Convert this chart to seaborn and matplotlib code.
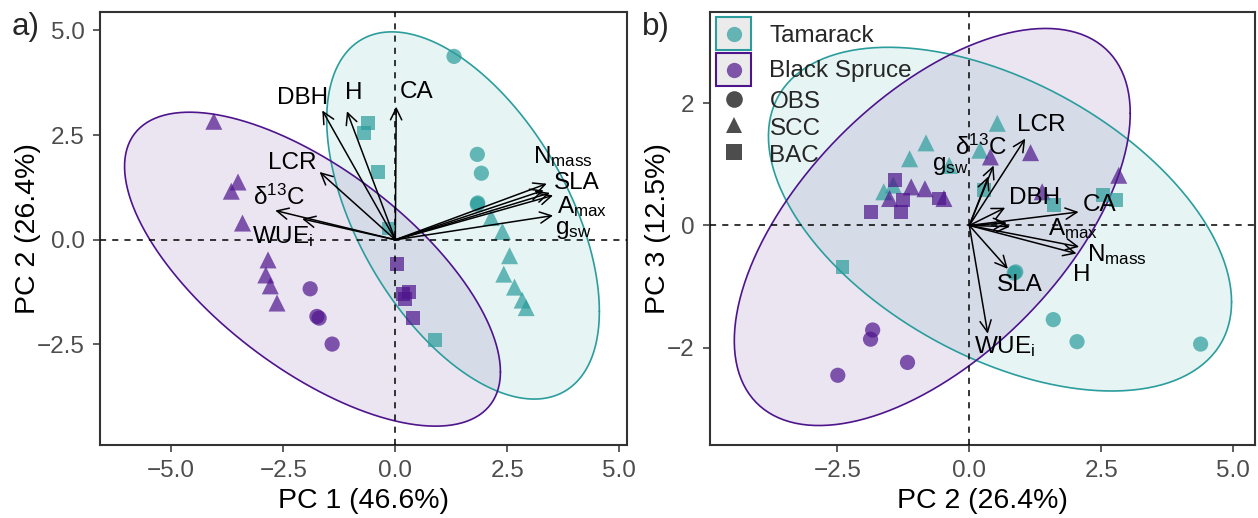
import numpy as np
import pandas as pd
import matplotlib
matplotlib.use("Agg")
import matplotlib.pyplot as plt
import seaborn as sns
from matplotlib.patches import Rectangle
from matplotlib.lines import Line2D
from matplotlib.legend_handler import HandlerBase

# ---- PCA scores per tree -------------------------------------------------
species = (["Tamarack"] * 17) + (["Black Spruce"] * 17)
site = (["OBS"] * 5 + ["SCC"] * 7 + ["BAC"] * 5 +
        ["OBS"] * 4 + ["SCC"] * 8 + ["BAC"] * 5)
pc1 = [1.31, 1.83, 1.92, 1.84, 1.83,
       2.14, 2.39, 2.55, 2.42, 2.66, 2.83, 2.92,
       -0.61, -0.69, -0.38, -0.15, 0.88,
       -1.90, -1.75, -1.70, -1.41,
       -4.05, -3.51, -3.66, -3.41, -2.84, -2.89, -2.79, -2.64,
       0.04, 0.30, 0.18, 0.22, 0.39]
pc2 = [4.38, 2.04, 1.59, 0.88, 0.85,
       0.53, 0.20, -0.38, -0.82, -1.13, -1.44, -1.62,
       2.78, 2.54, 1.61, 0.27, -2.40,
       -1.17, -1.83, -1.87, -2.49,
       2.83, 1.38, 1.16, 0.40, -0.48, -0.84, -1.10, -1.51,
       -0.58, -1.25, -1.30, -1.41, -1.86]
pc3 = [-1.94, -1.90, -1.54, -0.76, -0.78,
       1.67, 1.23, 0.98, 1.35, 1.09, 0.66, 0.55,
       0.41, 0.50, 0.33, 0.58, -0.68,
       -2.24, -1.71, -1.86, -2.45,
       0.82, 0.55, 1.19, 1.12, 0.44, 0.60, 0.63, 0.44,
       0.44, 0.41, 0.22, 0.75, 0.22]

# ---- trait loadings (arrow tips) -------------------------------------------
arrow_a_pc1 = [-1.63, -1.08, 0.02, -1.69, -2.68, -2.08, 3.38, 3.31, 3.45, 3.52, 3.52]
arrow_a_pc2 = [3.09, 3.07, 3.18, 1.62, 0.70, 0.50, 1.34, 1.18, 1.12, 1.06, 0.58]
arrow_b_pc2 = [2.08, 2.03, 2.07, 1.06, 0.46, 0.35, 0.68, 0.73, 0.71, 0.77, 0.36]
arrow_b_pc3 = [-0.35, -0.46, 0.22, 1.42, 0.98, -1.77, 0.29, -0.71, 0.04, -0.02, 0.80]

# ---- trait labels ----------------------------------------------------------
labels_a = ["DBH", "H", "CA", "LCR", "δ$^{13}$C", "WUE$_{i}$",
            "N$_{mass}$", "SLA", "A$_{max}$", "g$_{sw}$"]
label_a_x = [-2.07, -0.93, 0.48, -2.30, -2.60, -2.51, 3.73, 4.06, 4.18, 3.97]
label_a_y = [3.25, 3.37, 3.39, 1.70, 0.84, -0.08, 1.83, 1.22, 0.64, 0.14]

labels_b = ["LCR", "δ$^{13}$C", "g$_{sw}$", "DBH", "CA", "A$_{max}$",
            "N$_{mass}$", "H", "SLA", "WUE$_{i}$"]
label_b_x = [1.37, 0.22, -0.36, 1.23, 2.46, 1.97, 2.79, 2.12, 0.95, 0.67]
label_b_y = [1.54, 1.15, 0.90, 0.35, 0.24, -0.16, -0.59, -0.91, -1.07, -2.08]

species_order = ["Tamarack", "Black Spruce"]
site_order = ["OBS", "SCC", "BAC"]

df = pd.DataFrame({"Species": species, "Site": site,
                   "PC1": pc1, "PC2": pc2, "PC3": pc3})

# ---- style -----------------------------------------------------------------
sns.set_theme(style="white")
plt.rcParams["font.family"] = ["Liberation Sans", "DejaVu Sans"]
plt.rcParams["mathtext.fontset"] = "custom"
plt.rcParams["mathtext.rm"] = "Liberation Sans"
plt.rcParams["mathtext.it"] = "Liberation Sans:italic"
plt.rcParams["mathtext.bf"] = "Liberation Sans:bold"
plt.rcParams["mathtext.default"] = "regular"

TEAL = "#2A9D9C"
PURPLE = "#4E148C"
palette = {"Tamarack": TEAL, "Black Spruce": PURPLE}
markers = {"OBS": "o", "SCC": "^", "BAC": "s"}
marker_area = {"OBS": 120, "SCC": 150, "BAC": 100}
# radius rule used for each group's 95% ellipse
ellipse_rule = {"Tamarack": "chisq", "Black Spruce": "F"}
GREY = "#333333"
FS = 17.5

fig = plt.figure(figsize=(12.58, 5.18), dpi=100)
ax_a = fig.add_axes([100 / 1258, 73 / 518, 527 / 1258, 433 / 518])
ax_b = fig.add_axes([710 / 1258, 73 / 518, 545 / 1258, 433 / 518])


def draw_ellipse(ax, x, y, color, rule, level=0.95, n=300):
    """Normal-theory 95% data ellipse around a group of scores."""
    x = np.asarray(x)
    y = np.asarray(y)
    cov = np.cov(x, y)
    centre = np.array([x.mean(), y.mean()])
    if rule == "F":
        dfd = len(x) - 1
        qf = (dfd / 2.0) * ((1.0 - level) ** (-2.0 / dfd) - 1.0)
        radius = np.sqrt(2.0 * qf)
    else:
        radius = np.sqrt(-2.0 * np.log(1.0 - level))
    chol = np.linalg.cholesky(cov)
    t = np.linspace(0, 2 * np.pi, n)
    circle = np.vstack([np.cos(t), np.sin(t)])
    pts = centre[:, None] + radius * chol @ circle
    ax.fill(pts[0], pts[1], color=color, alpha=0.11, lw=0, zorder=1)
    ax.plot(pts[0], pts[1], color=color, lw=1.2, zorder=2)


def panel(ax, xcol, ycol, ax_tip_x, ax_tip_y, labels, lab_x, lab_y):
    for sp in species_order:
        sub = df[df["Species"] == sp]
        draw_ellipse(ax, sub[xcol], sub[ycol], palette[sp], ellipse_rule[sp])
    for st in site_order:
        sns.scatterplot(data=df[df["Site"] == st], x=xcol, y=ycol,
                        hue="Species", hue_order=species_order,
                        palette=palette, marker=markers[st],
                        s=marker_area[st], alpha=0.7, linewidth=0,
                        legend=False, ax=ax, zorder=3)
    ax.axhline(0, color="black", lw=1.1, ls=(0, (4, 4)), zorder=4)
    ax.axvline(0, color="black", lw=1.1, ls=(0, (4, 4)), zorder=4)
    for tx, ty in zip(ax_tip_x, ax_tip_y):
        ax.annotate("", xy=(tx, ty), xytext=(0, 0),
                    arrowprops=dict(arrowstyle="->,head_length=0.55,head_width=0.27",
                                    color="black", lw=1.1, shrinkA=0, shrinkB=0,
                                    mutation_scale=15),
                    zorder=5)
    for txt, lx, ly in zip(labels, lab_x, lab_y):
        ax.text(lx, ly, txt, ha="center", va="baseline", fontsize=FS,
                color="black", zorder=6)
    for s in ax.spines.values():
        s.set_color(GREY)
        s.set_linewidth(1.5)
    ax.tick_params(axis="both", which="both", direction="out", length=5,
                   width=1.1, color=GREY, labelsize=FS, labelcolor="#4D4D4D",
                   pad=6, bottom=True, left=True)


panel(ax_a, "PC1", "PC2", arrow_a_pc1, arrow_a_pc2, labels_a, label_a_x, label_a_y)
ax_a.set_xlim(-6.59, 5.17)
ax_a.set_ylim(-4.90, 5.44)
ax_a.set_xticks([-5.0, -2.5, 0.0, 2.5, 5.0])
ax_a.set_xticklabels(["−5.0", "−2.5", "0.0", "2.5", "5.0"])
ax_a.set_yticks([-2.5, 0.0, 2.5, 5.0])
ax_a.set_yticklabels(["−2.5", "0.0", "2.5", "5.0"])
ax_a.set_xlabel("PC 1 (46.6%)", fontsize=20.5, color="black", labelpad=4)
ax_a.set_ylabel("PC 2 (26.4%)", fontsize=20.5, color="black", labelpad=-3)

panel(ax_b, "PC2", "PC3", arrow_b_pc2, arrow_b_pc3, labels_b, label_b_x, label_b_y)
ax_b.set_xlim(-4.91, 5.41)
ax_b.set_ylim(-3.59, 3.49)
ax_b.set_xticks([-2.5, 0.0, 2.5, 5.0])
ax_b.set_xticklabels(["−2.5", "0.0", "2.5", "5.0"])
ax_b.set_yticks([-2, 0, 2])
ax_b.set_yticklabels(["−2", "0", "2"])
ax_b.set_xlabel("PC 2 (26.4%)", fontsize=20.5, color="black", labelpad=4)
ax_b.set_ylabel("PC 3 (12.5%)", fontsize=20.5, color="black", labelpad=-3)

fig.text(12 / 1258, 1 - 27 / 518, "a)", fontsize=22.5, ha="left", va="center")
fig.text(642 / 1258, 1 - 27 / 518, "b)", fontsize=22.5, ha="left", va="center")


# ---- legend ----------------------------------------------------------------
class BoxedKey(HandlerBase):
    def __init__(self, colour):
        super().__init__()
        self.colour = colour

    def create_artists(self, legend, orig_handle, xdescent, ydescent,
                       width, height, fontsize, trans):
        rect = Rectangle((-xdescent, -ydescent), width, height,
                         facecolor="#EBEBEB", edgecolor=self.colour,
                         lw=1.5, transform=trans)
        dot = Line2D([width / 2 - xdescent], [height / 2 - ydescent],
                     marker="o", ls="", ms=11, color=self.colour,
                     markeredgewidth=0, alpha=0.7, transform=trans)
        return [rect, dot]


h_sp = [Line2D([], [], ls="") for _ in species_order]
leg1 = ax_b.legend(h_sp, species_order,
                   handler_map={h: BoxedKey(palette[sp]) for h, sp in zip(h_sp, species_order)},
                   loc="upper left", bbox_to_anchor=(0.011, 0.988),
                   frameon=False, fontsize=FS, handlelength=1.45,
                   handleheight=1.7, handletextpad=0.75, labelspacing=0.13,
                   borderpad=0, borderaxespad=0)
leg1.set_zorder(10)
ax_b.add_artist(leg1)

h_site = [Line2D([], [], marker=markers[s], ls="", ms=12, color="#4D4D4D",
                 markeredgewidth=0) for s in site_order]
leg2 = ax_b.legend(h_site, site_order, loc="upper left",
                   bbox_to_anchor=(0.011, 0.822), frameon=False, fontsize=FS,
                   handlelength=1.45, handleheight=1.0, handletextpad=0.75,
                   labelspacing=0.1, borderpad=0, borderaxespad=0)
leg2.set_zorder(10)

fig.savefig("out.png", dpi=100)
